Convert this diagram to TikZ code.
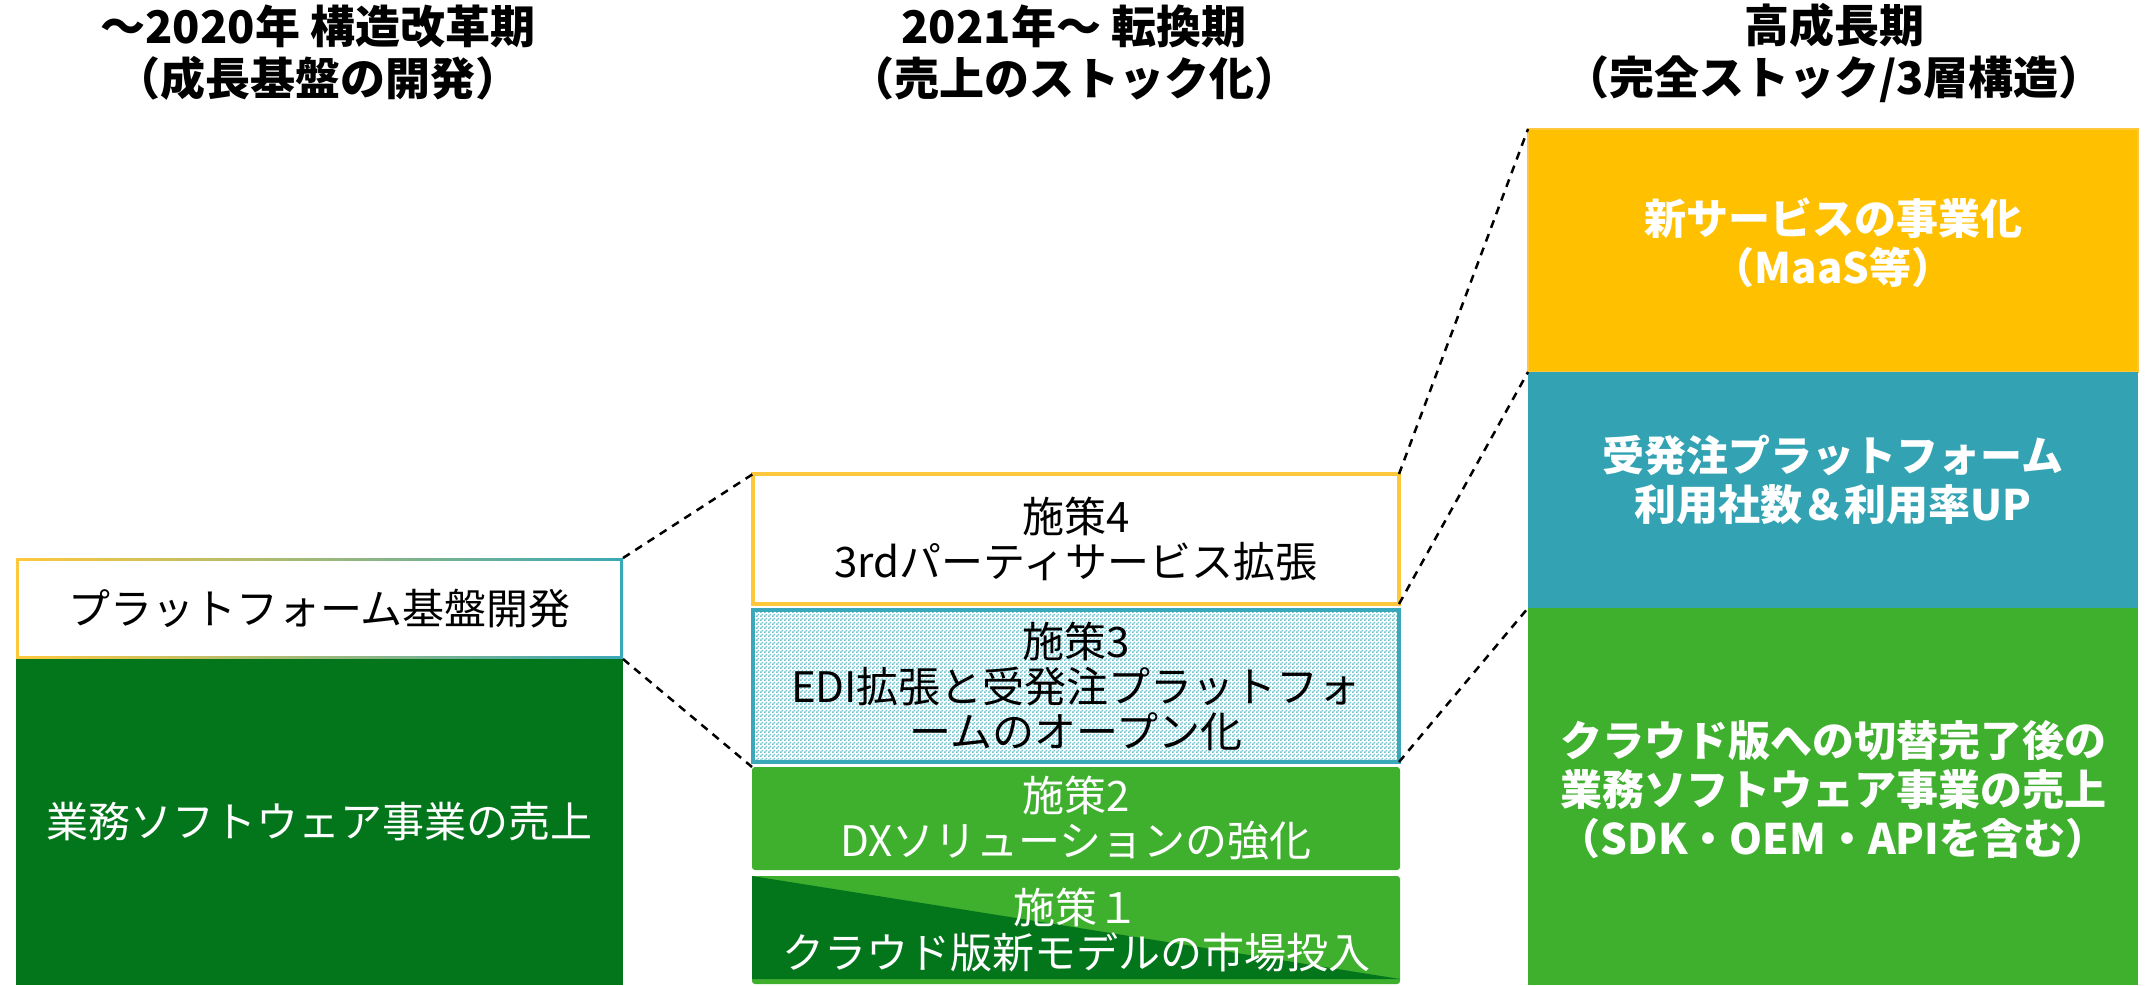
\documentclass[tikz,border=0pt]{standalone}
\usepackage{fontspec}
\setmainfont{Noto Sans CJK JP}
\usetikzlibrary{patterns,backgrounds}
\definecolor{dgreen}{RGB}{3,118,28}
\definecolor{lgreen}{RGB}{63,175,46}
\definecolor{gold}{RGB}{255,192,0}
\definecolor{goldline}{RGB}{255,200,60}
\definecolor{tealc}{RGB}{51,163,180}
\definecolor{tealline}{RGB}{58,168,184}
\definecolor{tealdot}{RGB}{110,195,207}
\pgfdeclarepatternformonly{finechecker}{\pgfqpoint{0pt}{0pt}}{\pgfqpoint{2pt}{2pt}}{\pgfqpoint{2pt}{2pt}}{%
  \pgfpathrectangle{\pgfqpoint{0pt}{0pt}}{\pgfqpoint{1pt}{1pt}}%
  \pgfpathrectangle{\pgfqpoint{1pt}{1pt}}{\pgfqpoint{1pt}{1pt}}%
  \pgfusepath{fill}}
\begin{document}
\begin{tikzpicture}[x=0.5pt,y=-0.5pt,
  box/.style={rectangle, inner sep=0pt, outer sep=0pt, align=center,
    font=\fontsize{21}{22.5}\selectfont},
  boldtext/.style={inner sep=0pt, align=center, text=white, font=\bfseries\fontsize{21}{24.5}\selectfont},
  title/.style={align=center, inner sep=0pt, font=\bfseries\fontsize{22.5}{26}\selectfont},
  guide/.style={draw=black, line width=1.25pt, dash pattern=on 4pt off 3.3pt}]
\useasboundingbox (0,0) rectangle (2146,985);

% titles
\node[title] (t1) at (318,53) {～2020年 構造改革期\\（成長基盤の開発）};
\node[title] (t2) at (1074,53) {2021年～ 転換期\\（売上のストック化）};
\node[title] (t3) at (1834,53) {高成長期\\（完全ストック/3層構造）};

% left column
\node[box, minimum width=303.5pt, minimum height=50.5pt] (plat) at (319.5,608.5) {プラットフォーム基盤開発};
\node[box, fill=dgreen, text=white, minimum width=303.5pt, minimum height=163pt] (soft) at (319.5,822) {業務ソフトウェア事業の売上};

% middle column
\node[box, draw=goldline, line width=2pt, fill=white, minimum width=323pt, minimum height=65pt] (s4) at (1076,539) {施策4\\3rdパーティサービス拡張};
\node[box, draw=tealline, line width=2pt, pattern=finechecker, pattern color=tealdot, minimum width=323pt, minimum height=76pt] (s3) at (1076,686) {施策3\\EDI拡張と受発注プラットフォ\\ームのオープン化};
\node[box, fill=lgreen, text=white, rounded corners=1.5pt, minimum width=324pt, minimum height=51.5pt] (s2) at (1076,818.5) {施策2\\DXソリューションの強化};
\node[box, text=white, minimum width=324pt, minimum height=54pt] (s1) at (1076,930) {施策１\\クラウド版新モデルの市場投入};

% right column
\node[box, fill=gold, draw=goldline, line width=0.6pt, minimum width=305pt, minimum height=121.5pt] (r1) at (1833,250.5) {};
\node[box, fill=tealc, minimum width=305pt, minimum height=118pt] (r2) at (1833,490) {};
\node[box, fill=lgreen, minimum width=305pt, minimum height=188.5pt] (r3) at (1833,796.5) {};
\node[boldtext] (r1t) at (1833,243) {新サービスの事業化\\（MaaS等）};
\node[boldtext] (r2t) at (1833,480) {受発注プラットフォーム\\利用社数＆利用率UP};
\node[boldtext] (r3t) at (1833,790) {クラウド版への切替完了後の\\業務ソフトウェア事業の売上\\（SDK・OEM・APIを含む）};

% background pieces
\begin{pgfonlayer}{background}
  \fill[white] (0,0) rectangle (2146,985);
  \shade[left color=goldline, right color=tealline] (plat.north west) rectangle (plat.south east);
  \fill[white] ([xshift=1.5pt,yshift=-1.5pt]plat.north west) rectangle ([xshift=-1.5pt,yshift=1.5pt]plat.south east);
  \fill[lgreen, rounded corners=1.5pt] (s1.north west) rectangle (s1.south east);
  \fill[dgreen] (s1.north west) -- ([yshift=2.5pt]s1.south east) -- ([yshift=2.5pt]s1.south west) -- cycle;
\end{pgfonlayer}

% dashed guides
\draw[guide] (plat.north east) -- (s4.north west);
\draw[guide] (plat.south east) -- (s2.north west);
\draw[guide] (s4.north east) -- (r1.north west);
\draw[guide] (s4.south east) -- (r2.north west);
\draw[guide] (s3.south east) -- (r3.north west);
\end{tikzpicture}
\end{document}
